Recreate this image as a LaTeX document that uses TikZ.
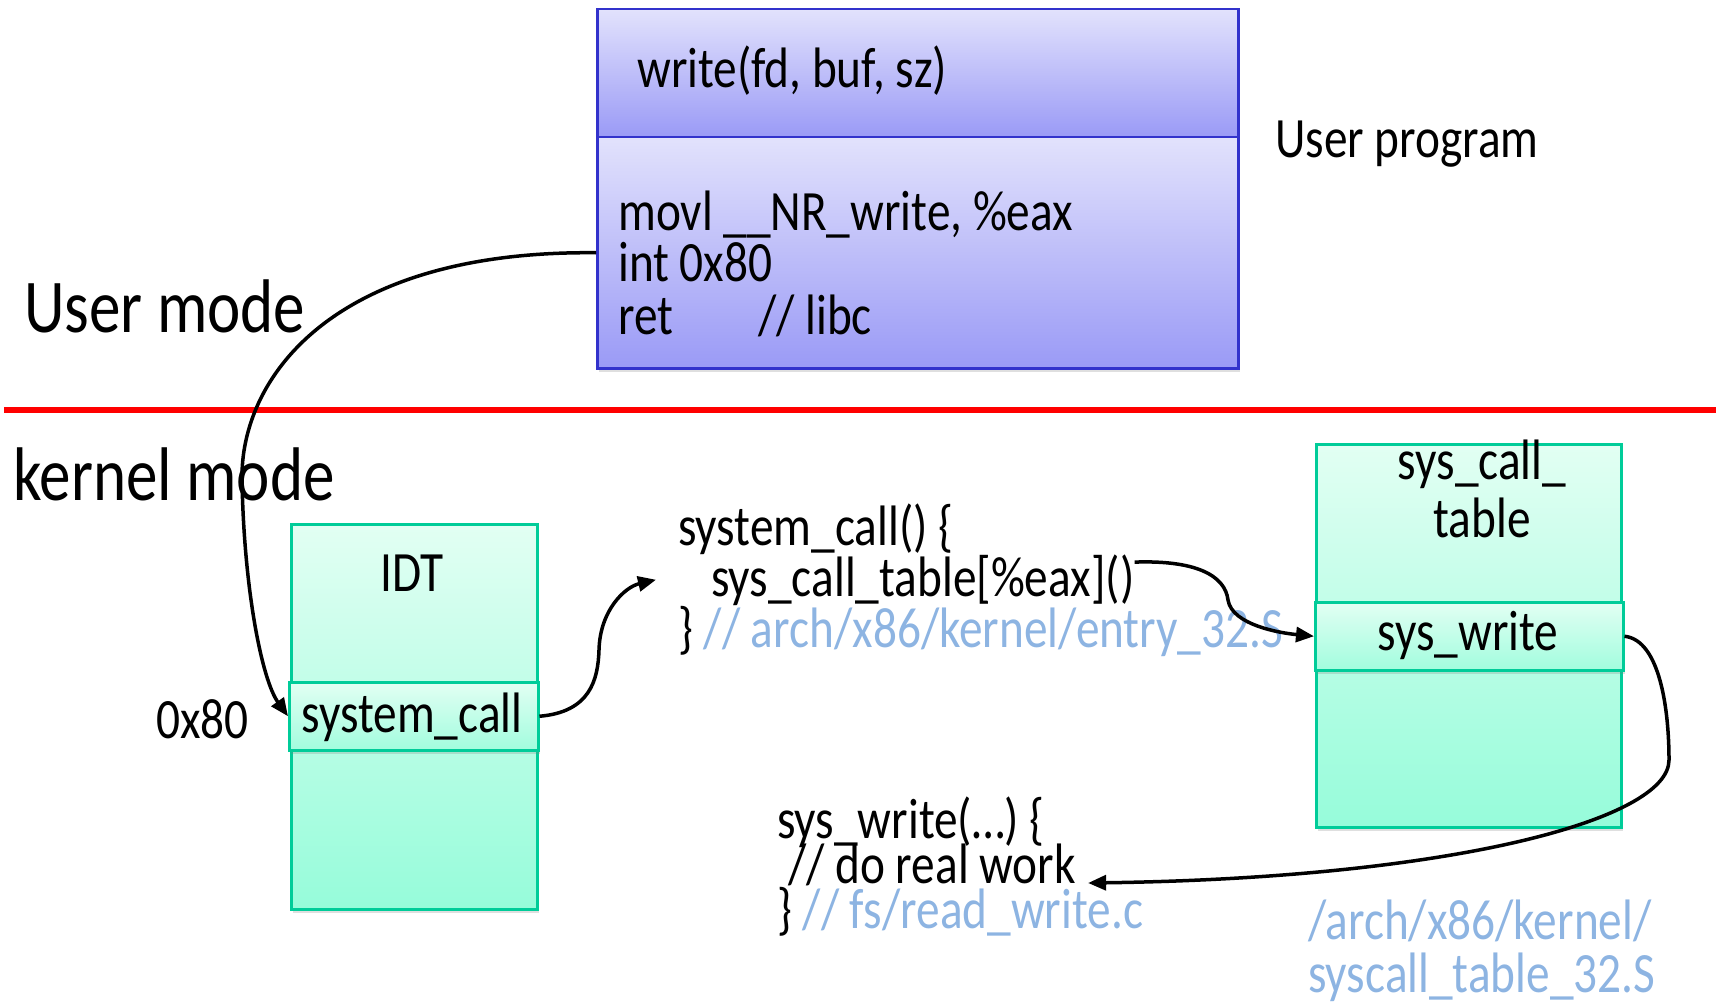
\documentclass[tikz,border=0pt]{standalone}
\usepackage{fontspec}
\setmainfont{Carlito}[FakeStretch=0.83]
\usepackage{xcolor}
\usetikzlibrary{
    arrows.meta,
    shadows
}
\definecolor{userline}{RGB}{50,50,204}
\definecolor{usertop}{RGB}{226,226,252}
\definecolor{userbot}{RGB}{154,154,246}
\definecolor{tableline}{RGB}{0,204,153}
\definecolor{tabletop}{RGB}{226,255,243}
\definecolor{tablebot}{RGB}{150,252,218}
\definecolor{pathblue}{RGB}{141,180,226}
\tikzset{
    userbox/.style={
        rectangle,
        draw=userline,
        line width=2.5pt,
        top color=usertop,
        bottom color=userbot,
        inner sep=0pt,
        drop shadow={shadow xshift=2pt, shadow yshift=-4pt, opacity=0.25}
    },
    tablebox/.style={
        rectangle,
        draw=tableline,
        line width=2.5pt,
        top color=tabletop,
        bottom color=tablebot,
        inner sep=0pt,
        drop shadow={shadow xshift=2pt, shadow yshift=-4pt, opacity=0.25}
    },
    entrybox/.style={
        tablebox,
        bottom color=tablebot!85!tabletop
    },
    code/.style={
        anchor=base west,
        inner sep=0pt,
        font=\fontsize{57}{52}\selectfont
    },
    filetext/.style={
        code,
        text=pathblue
    },
    modetext/.style={
        anchor=base west,
        inner sep=0pt,
        font=\fontsize{76}{80}\selectfont
    },
    arrow/.style={
        -{Triangle[length=18pt,width=15pt]},
        line width=3.5pt
    }
}

\begin{document}
\begin{tikzpicture}[x=1pt, y=-1pt]
\useasboundingbox (0,0) rectangle (1723,1003);

% user program
\node[userbox, anchor=north west, minimum width=641pt, minimum height=128pt] (uhead) at (596,8) {};
\node[userbox, anchor=north west, minimum width=641pt, minimum height=231pt] (ucode) at (596,136) {};
\node[code] (uwrite) at (637,88) {write(fd, buf, sz)};
\node[code] (umovl) at (618,230) {movl \_\_NR\_write, \%eax};
\node[code] (uint) at (618,281) {int 0x80};
\node[code] (uret) at (618,334) {\makebox[140pt][l]{ret}// libc};
\node[code] (uprog) at (1275,158) {User program};

% modes
\node[modetext] (umode) at (24,332) {User mode};
\node[modetext] (kmode) at (13,500) {kernel mode};
\draw[red, line width=6pt] (4,410) -- (1716,410);

% IDT
\node[tablebox, anchor=north west, minimum width=246pt, minimum height=385pt] (idt) at (290,523) {};
\node[entrybox, anchor=north west, minimum width=249pt, minimum height=68pt] (idtcall) at (288,681) {};
\node[code, anchor=base] (idtname) at (412,591) {IDT};
\node[code, anchor=base] (idtentry) at (412,732) {system\_call};
\node[code] (vec) at (156,738) {0x80};

% system_call()
\node[code] (sc1) at (678,545) {system\_call() \{};
\node[code] (sc2) at (711,596) {sys\_call\_table[\%eax]()};
\node[code] (sc3) at (678,647) {\} \textcolor{pathblue}{// arch/x86/kernel/entry\_32.S}};

% sys_call_table
\node[tablebox, anchor=north west, minimum width=305pt, minimum height=383pt] (tbl) at (1315,443) {};
\node[entrybox, anchor=north west, minimum width=308pt, minimum height=68pt] (tblwrite) at (1314,601) {};
\node[code, anchor=base] (tblname1) at (1482,479) {sys\_call\_};
\node[code, anchor=base] (tblname2) at (1482,537) {table};
\node[code, anchor=base] (tblentry) at (1468,650) {sys\_write};
\node[filetext] (tblfile1) at (1308,939) {/arch/x86/kernel/};
\node[filetext] (tblfile2) at (1308,992) {syscall\_table\_32.S};

% sys_write()
\node[code] (sw1) at (777,838) {sys\_write(…) \{};
\node[code] (sw2) at (788,883) {// do real work};
\node[code] (sw3) at (777,928) {\} \textcolor{pathblue}{// fs/read\_write.c}};

% control flow
\draw[arrow] (ucode.west) .. controls (330,250) and (240,380) .. (242,480)
    .. controls (244,590) and (262,680) .. (idtcall.west);
\draw[arrow] (idtcall.east) .. controls (590,712) and (598,680) .. (599,650)
    .. controls (600,610) and (625,587) .. ([xshift=-55pt]sc2.west);
\draw[arrow] ([yshift=-8pt]sc2.north east) .. controls (1195,560) and (1225,575) .. (1228,600)
    .. controls (1232,625) and (1280,633) .. (tblwrite.west);
\draw[arrow] (tblwrite.east) .. controls (1660,640) and (1669,710) .. (1669,760)
    .. controls (1669,820) and (1450,878) .. ([xshift=12pt]sw2.base east);

\end{tikzpicture}
\end{document}
